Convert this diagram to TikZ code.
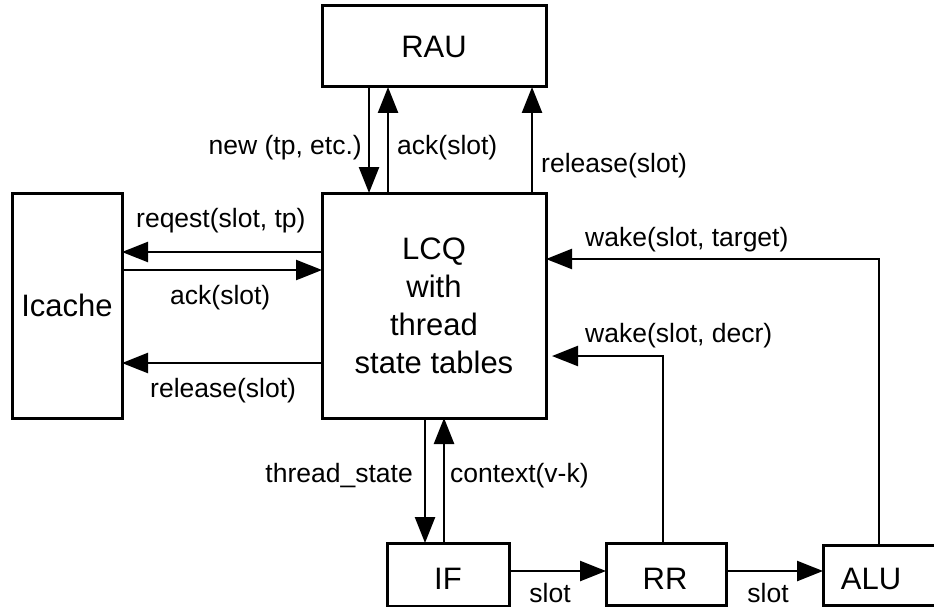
\documentclass[tikz,border=0pt]{standalone}
\usepackage{fontspec}
\setmainfont{Liberation Sans}
\usetikzlibrary{arrows.meta}
\tikzset{
  blk/.style={draw=black, line width=3pt, fill=white, inner sep=0pt, outer sep=0pt,
    font=\fontsize{31}{38}\selectfont, align=center},
  bigtxt/.style={font=\fontsize{31}{38}\selectfont, inner sep=0pt},
  lbl/.style={font=\fontsize{26.5}{30}\selectfont, inner sep=0pt},
  arr/.style={line width=2.5pt, -{Triangle[length=26pt,width=20pt]}},
  ln/.style={line width=2.5pt}
}
\begin{document}
\begin{tikzpicture}[x=1pt,y=-1pt]
\useasboundingbox (0,0) rectangle (934,607);
\clip (0,0) rectangle (934,607);
% boxes
\node[blk, minimum width=224pt, minimum height=81pt] (RAU) at (434,46.5) {RAU};
\node[blk, minimum width=224pt, minimum height=225pt] (LCQ) at (434,305.5) {LCQ\\with\\thread\\state tables};
\node[blk, minimum width=110pt, minimum height=225pt] (IC) at (67,305.5) {Icache};
\node[blk, minimum width=122pt, minimum height=63pt] (IF) at (448,574.5) {};
\node[blk, minimum width=120pt, minimum height=62pt] (RR) at (666,574) {};
\node[blk, minimum width=127pt, minimum height=60pt] (ALU) at (886.5,575) {};
\node[bigtxt] (IFt) at (448,579) {IF};
\node[bigtxt] (RRt) at (665,579) {RR};
\node[bigtxt] (ALUt) at (871,579) {ALU};
% RAU <-> LCQ
\draw[arr] (369,0 |- RAU.south) -- (369,0 |- LCQ.north);
\draw[arr] (388,0 |- LCQ.north) -- (388,0 |- RAU.south);
\draw[arr] (532,0 |- LCQ.north) -- (532,0 |- RAU.south);
\node[lbl, anchor=base east] (lnew) at (362,154) {new (tp, etc.)};
\node[lbl, anchor=base west] (lack) at (397,154) {ack(slot)};
\node[lbl, anchor=base west] (lrel) at (541,172) {release(slot)};
% Icache <-> LCQ
\draw[arr] (LCQ.west |- 0,252) -- (IC.east |- 0,252);
\draw[arr] (IC.east |- 0,270) -- (LCQ.west |- 0,270);
\draw[arr] (LCQ.west |- 0,363) -- (IC.east |- 0,363);
\node[lbl, anchor=base west] (lreq) at (136,227) {reqest(slot, tp)};
\node[lbl, anchor=base west] (lack2) at (170,304) {ack(slot)};
\node[lbl, anchor=base west] (lrel2) at (150,397) {release(slot)};
% wake paths
\draw[arr] (879,0 |- ALU.north) |- (LCQ.east |- 0,259);
\draw[arr, shorten >=6pt] (663,0 |- RR.north) |- (LCQ.east |- 0,356);
\node[lbl, anchor=base west] (lwt) at (585,246) {wake(slot, target)};
\node[lbl, anchor=base west] (lwd) at (585,342) {wake(slot, decr)};
% LCQ <-> IF
\draw[arr] (425,0 |- LCQ.south) -- (425,0 |- IF.north);
\draw[arr] (444,0 |- IF.north) -- (444,0 |- LCQ.south);
\node[lbl, anchor=base east] (lts) at (413,482) {thread\_state};
\node[lbl, anchor=base west] (lctx) at (450,482) {context(v-k)};
% pipeline
\draw[arr] (IF.east |- 0,571) -- (RR.west |- 0,571);
\draw[arr] (RR.east |- 0,571) -- (ALU.west |- 0,571);
\node[lbl, anchor=base] (ls1) at (550,602) {slot};
\node[lbl, anchor=base] (ls2) at (768,602) {slot};
\end{tikzpicture}
\end{document}
